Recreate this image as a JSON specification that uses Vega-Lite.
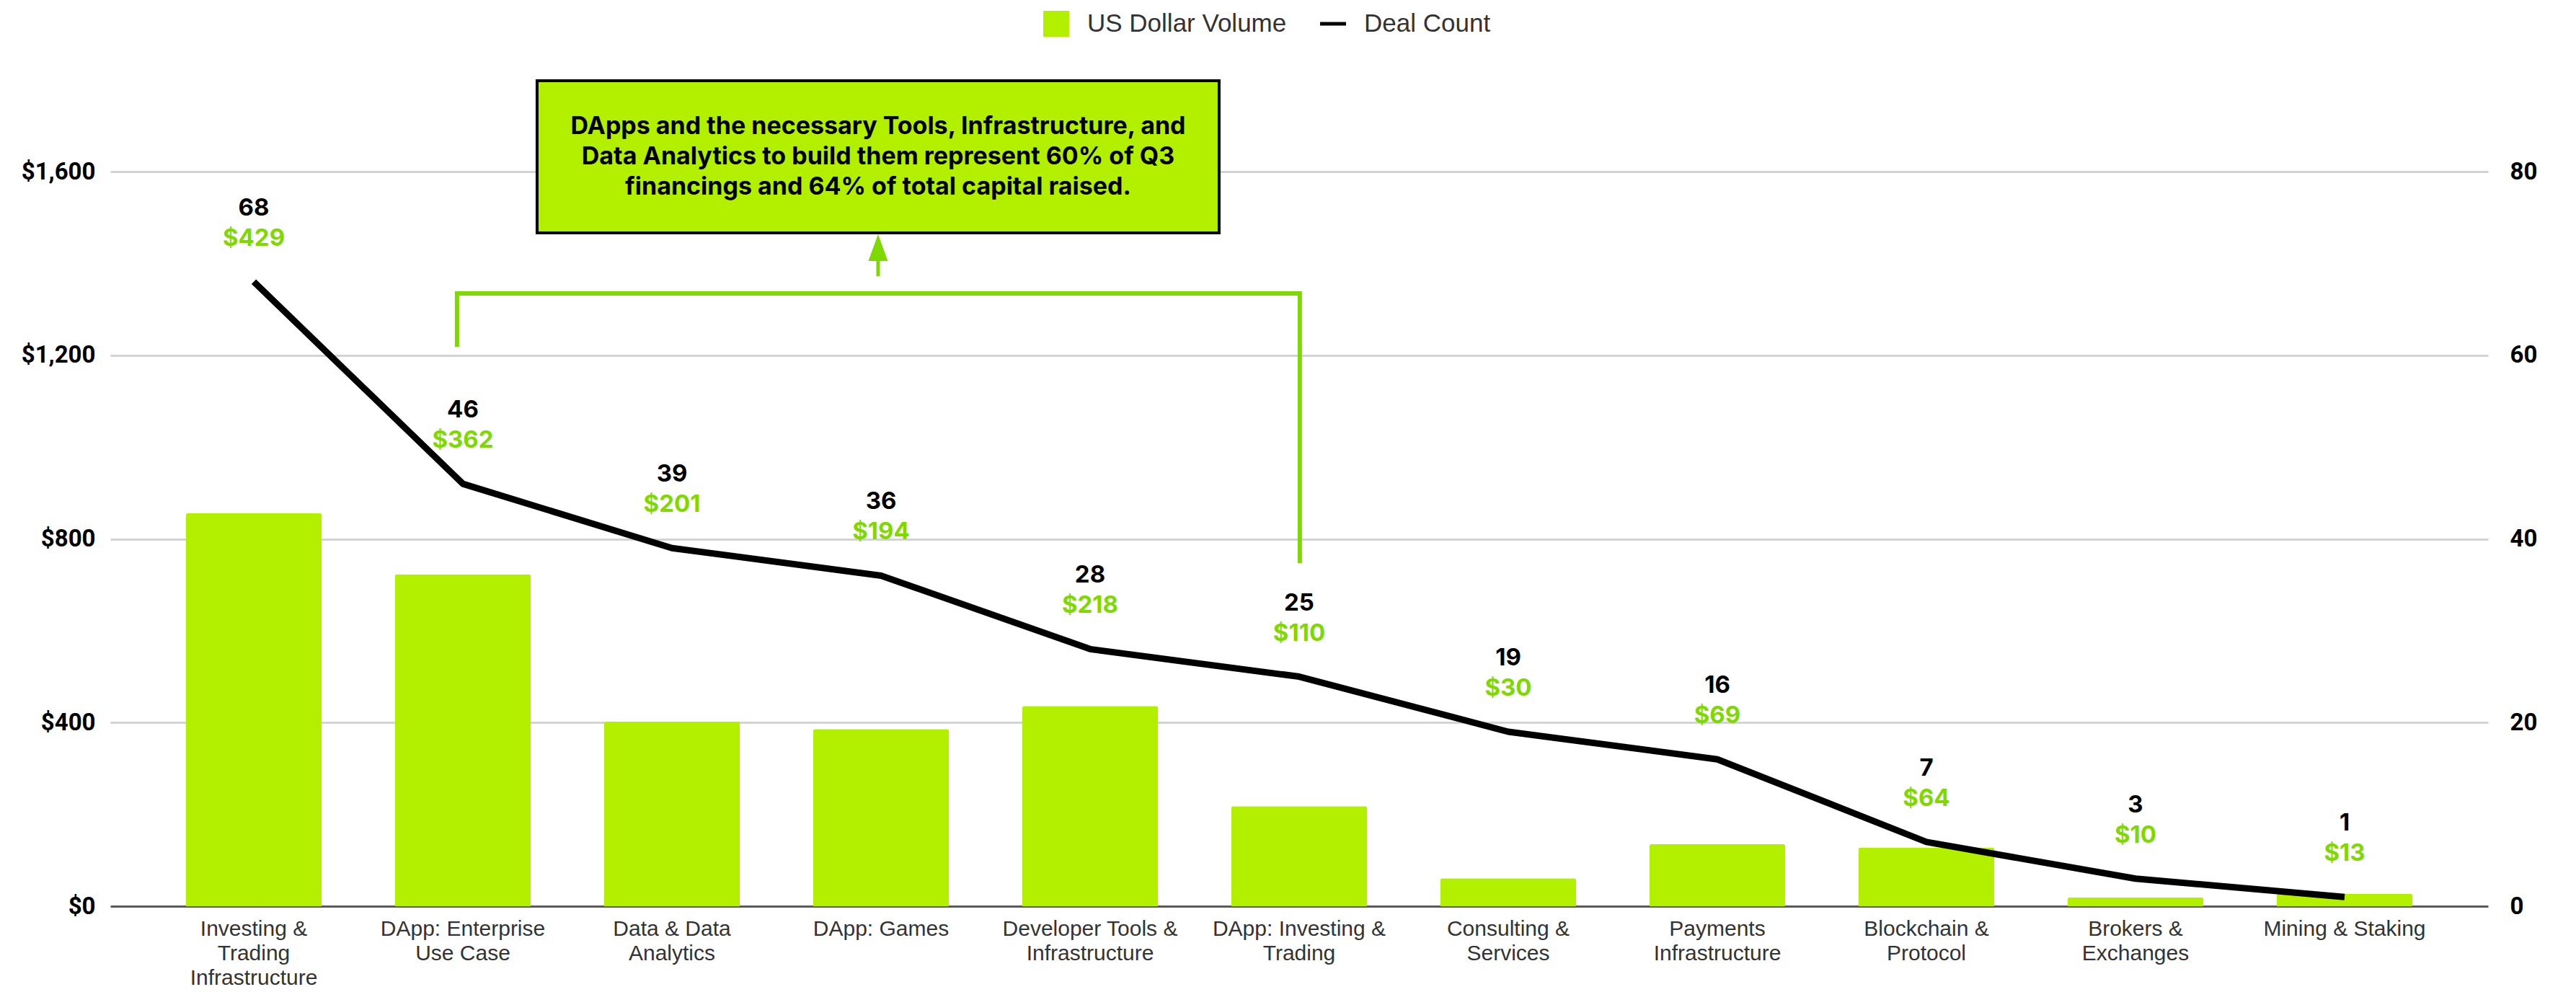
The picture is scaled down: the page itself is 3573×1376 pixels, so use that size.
{
  "$schema": "https://vega.github.io/schema/vega-lite/v6.json",
  "width": 3298,
  "height": 1019,
  "autosize": {"type": "none"},
  "padding": {"left": 153, "top": 238, "right": 122, "bottom": 119},
  "background": "white",
  "config": {"view": {"stroke": null}, "font": "Roboto"},
  "datasets": {
    "cats": [
      {"cat": "Investing & Trading Infrastructure", "usd_bar": 856, "usd_label": 429, "count": 68},
      {"cat": "DApp: Enterprise Use Case", "usd_bar": 723, "usd_label": 362, "count": 46},
      {"cat": "Data & Data Analytics", "usd_bar": 402, "usd_label": 201, "count": 39},
      {"cat": "DApp: Games", "usd_bar": 386, "usd_label": 194, "count": 36},
      {"cat": "Developer Tools & Infrastructure", "usd_bar": 436, "usd_label": 218, "count": 28},
      {"cat": "DApp: Investing & Trading", "usd_bar": 218, "usd_label": 110, "count": 25},
      {"cat": "Consulting & Services", "usd_bar": 61, "usd_label": 30, "count": 19},
      {"cat": "Payments Infrastructure", "usd_bar": 135, "usd_label": 69, "count": 16},
      {"cat": "Blockchain & Protocol", "usd_bar": 128, "usd_label": 64, "count": 7},
      {"cat": "Brokers & Exchanges", "usd_bar": 19, "usd_label": 10, "count": 3},
      {"cat": "Mining & Staking", "usd_bar": 27, "usd_label": 13, "count": 1}
    ],
    "box": [
      {"x1": 1.355, "x2": 4.617, "y1": 1466.5, "y2": 1797.8, "cx": 2.986, "cy": 1631.4,
       "text": ["DApps and the necessary Tools, Infrastructure, and", "Data Analytics to build them represent 60% of Q3", "financings  and 64% of total capital raised."]}
    ],
    "bracket": [
      {"x": 0.972, "y": 1218.4, "o": 1},
      {"x": 0.972, "y": 1334.6, "o": 2},
      {"x": 5.003, "y": 1334.6, "o": 3},
      {"x": 5.003, "y": 747.4, "o": 4}
    ],
    "arrow": [{"x": 2.986, "y": 1372.3, "y2": 1420, "tip": 1434.3}]
  },
  "layer": [
    {
      "data": {"name": "cats"},
      "mark": {"type": "bar", "cornerRadiusTopLeft": 3, "cornerRadiusTopRight": 3},
      "encoding": {
        "x": {
          "field": "cat", "type": "nominal", "sort": null,
          "scale": {"type": "band", "domain": ["Investing & Trading Infrastructure", "DApp: Enterprise Use Case", "Data & Data Analytics", "DApp: Games", "Developer Tools & Infrastructure", "DApp: Investing & Trading", "Consulting & Services", "Payments Infrastructure", "Blockchain & Protocol", "Brokers & Exchanges", "Mining & Staking"], "paddingInner": 0.35, "paddingOuter": 0.3612},
          "axis": {
            "orient": "bottom", "title": null, "labelAngle": 0, "ticks": false, "domain": false,
            "labelFont": "Liberation Sans", "labelFontSize": 30, "labelColor": "#333333", "labelLineHeight": 34,
            "labelPadding": 16, "labelLimit": 600, "labelOverlap": false,
            "labelExpr": "{'Investing & Trading Infrastructure':['Investing &','Trading','Infrastructure'],'DApp: Enterprise Use Case':['DApp: Enterprise','Use Case'],'Data & Data Analytics':['Data & Data','Analytics'],'DApp: Games':['DApp: Games'],'Developer Tools & Infrastructure':['Developer Tools &','Infrastructure'],'DApp: Investing & Trading':['DApp: Investing &','Trading'],'Consulting & Services':['Consulting &','Services'],'Payments Infrastructure':['Payments','Infrastructure'],'Blockchain & Protocol':['Blockchain &','Protocol'],'Brokers & Exchanges':['Brokers &','Exchanges'],'Mining & Staking':['Mining & Staking']}[datum.value]"
          }
        },
        "y": {
          "field": "usd_bar", "type": "quantitative",
          "scale": {"domain": [0, 1600], "nice": false},
          "axis": {
            "orient": "left", "title": null, "values": [0, 400, 800, 1200, 1600], "format": "$,.0f",
            "labelFont": "Roboto", "labelFontWeight": "bold", "labelFontSize": 33, "labelColor": "#000000",
            "labelPadding": 21, "ticks": false, "domain": false, "grid": true,
            "gridColor": {"condition": {"test": "datum.value === 0", "value": "#5a5a5a"}, "value": "#d3d3d3"},
            "gridWidth": 3
          }
        },
        "color": {
          "datum": "US Dollar Volume", "type": "nominal",
          "scale": {"domain": ["US Dollar Volume", "Deal Count"], "range": ["#B2F000", "#000000"]},
          "legend": {
            "orient": "none", "legendX": 1294, "legendY": -223, "direction": "horizontal", "title": null,
            "padding": 0, "labelFont": "Liberation Sans", "labelFontSize": 35, "labelColor": "#333333",
            "labelLimit": 600, "symbolSize": 1296, "labelOffset": 25, "columnPadding": 46, "symbolStrokeWidth": 0,
            "encode": {
              "symbols": {
                "update": {
                  "shape": {"signal": "datum.value === 'Deal Count' ? 'M-1,-0.14H1V0.14H-1Z' : 'M-1,-1H1V1H-1Z'"},
                  "fill": {"signal": "datum.value === 'Deal Count' ? '#000000' : '#B2F000'"},
                  "stroke": {"value": "transparent"},
                  "opacity": {"value": 1}
                }
              }
            }
          }
        }
      }
    },
    {
      "data": {"name": "cats"},
      "mark": {"type": "line", "strokeWidth": 9, "strokeCap": "butt", "strokeJoin": "round"},
      "encoding": {
        "x": {"field": "cat", "type": "nominal", "sort": null, "scale": {"type": "point", "padding": 0.6862}, "axis": null},
        "y": {
          "field": "count", "type": "quantitative",
          "scale": {"domain": [0, 80], "nice": false},
          "axis": {
            "orient": "right", "title": null, "values": [0, 20, 40, 60, 80],
            "labelFont": "Roboto", "labelFontWeight": "bold", "labelFontSize": 33, "labelColor": "#000000",
            "labelPadding": 30, "ticks": false, "domain": false, "grid": false
          }
        },
        "color": {"datum": "Deal Count", "type": "nominal"}
      }
    },
    {
      "data": {"name": "cats"},
      "mark": {"type": "text", "font": "Inter", "fontWeight": "bold", "fontSize": 33, "color": "#000000", "dy": -102, "baseline": "middle", "align": "center"},
      "encoding": {
        "x": {"field": "cat", "type": "nominal", "sort": null, "scale": {"type": "point", "padding": 0.6862}, "axis": null},
        "y": {"field": "count", "type": "quantitative", "scale": {"domain": [0, 80], "nice": false}, "axis": null},
        "text": {"field": "count", "type": "quantitative"}
      }
    },
    {
      "data": {"name": "cats"},
      "mark": {"type": "text", "font": "Inter", "fontWeight": "bold", "fontSize": 33, "color": "#7ED900", "dy": -60, "baseline": "middle", "align": "center"},
      "encoding": {
        "x": {"field": "cat", "type": "nominal", "sort": null, "scale": {"type": "point", "padding": 0.6862}, "axis": null},
        "y": {"field": "count", "type": "quantitative", "scale": {"domain": [0, 80], "nice": false}, "axis": null},
        "text": {"field": "usd_label", "type": "quantitative", "format": "$,.0f"}
      }
    },
    {
      "data": {"name": "bracket"},
      "mark": {"type": "line", "color": "#7ED900", "strokeWidth": 6, "strokeJoin": "miter", "strokeCap": "butt"},
      "encoding": {
        "x": {"field": "x", "type": "quantitative", "scale": {"domain": [-0.6862, 10.6862], "nice": false, "zero": false}, "axis": null},
        "y": {"field": "y", "type": "quantitative", "scale": {"domain": [0, 1600], "nice": false}, "axis": null},
        "order": {"field": "o", "type": "quantitative"}
      }
    },
    {
      "data": {"name": "arrow"},
      "mark": {"type": "rule", "color": "#7ED900", "strokeWidth": 5},
      "encoding": {
        "x": {"field": "x", "type": "quantitative", "scale": {"domain": [-0.6862, 10.6862], "nice": false, "zero": false}, "axis": null},
        "y": {"field": "y", "type": "quantitative", "scale": {"domain": [0, 1600], "nice": false}, "axis": null},
        "y2": {"field": "y2"}
      }
    },
    {
      "data": {"name": "arrow"},
      "mark": {"type": "point", "shape": "M0,-1L0.73,1L-0.73,1Z", "size": 1369, "filled": true, "color": "#7ED900", "opacity": 1, "strokeWidth": 0},
      "encoding": {
        "x": {"field": "x", "type": "quantitative", "scale": {"domain": [-0.6862, 10.6862], "nice": false, "zero": false}, "axis": null},
        "y": {"field": "tip", "type": "quantitative", "scale": {"domain": [0, 1600], "nice": false}, "axis": null}
      }
    },
    {
      "data": {"name": "box"},
      "mark": {"type": "rect", "fill": "#B2F000", "stroke": "#000000", "strokeWidth": 4},
      "encoding": {
        "x": {"field": "x1", "type": "quantitative", "scale": {"domain": [-0.6862, 10.6862], "nice": false, "zero": false}, "axis": null},
        "x2": {"field": "x2"},
        "y": {"field": "y1", "type": "quantitative", "scale": {"domain": [0, 1600], "nice": false}, "axis": null},
        "y2": {"field": "y2"}
      }
    },
    {
      "data": {"name": "box"},
      "mark": {"type": "text", "font": "Inter", "fontWeight": "bold", "fontSize": 34, "lineHeight": 42, "align": "center", "baseline": "middle", "dy": -42, "color": "#000000"},
      "encoding": {
        "x": {"field": "cx", "type": "quantitative", "scale": {"domain": [-0.6862, 10.6862], "nice": false, "zero": false}, "axis": null},
        "y": {"field": "cy", "type": "quantitative", "scale": {"domain": [0, 1600], "nice": false}, "axis": null},
        "text": {"field": "text"}
      }
    }
  ],
  "resolve": {"scale": {"x": "independent", "y": "independent"}}
}
